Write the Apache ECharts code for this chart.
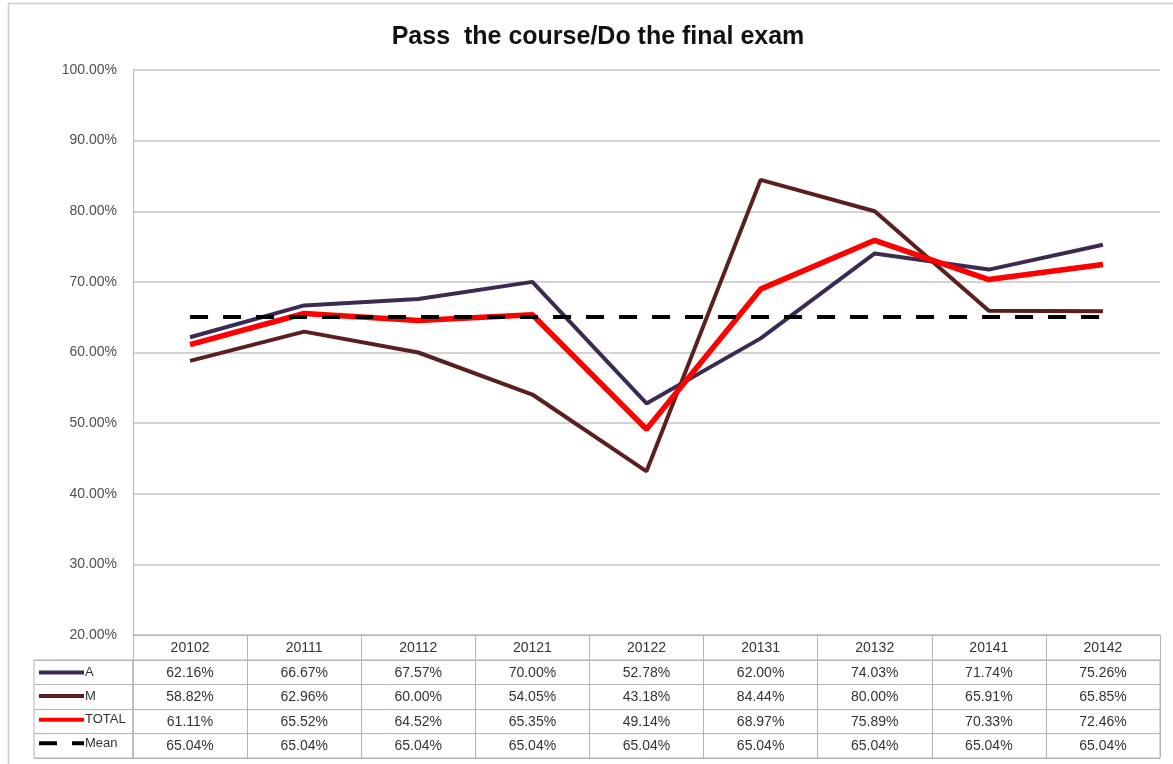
<!DOCTYPE html>
<html>
<head>
<meta charset="utf-8">
<script src="https://cdn.jsdelivr.net/npm/echarts@6/dist/echarts.min.js"></script>
<style>
html,body{margin:0;padding:0;background:#fff;}
#chart{width:1173px;height:764px;}
</style>
</head>
<body>
<div id="chart"></div>
<script>
const title = 'Pass  the course/Do the final exam';
const categories = ['20102','20111','20112','20121','20122','20131','20132','20141','20142'];
const seriesNames = ['A','M','TOTAL','Mean'];
const valuesA = [62.16,66.67,67.57,70.00,52.78,62.00,74.03,71.74,75.26];
const valuesM = [58.82,62.96,60.00,54.05,43.18,84.44,80.00,65.91,65.85];
const valuesTotal = [61.11,65.52,64.52,65.35,49.14,68.97,75.89,70.33,72.46];
const valuesMean = [65.04,65.04,65.04,65.04,65.04,65.04,65.04,65.04,65.04];
const yMin = 20, yMax = 100, yStep = 10;

const allValues = [valuesA, valuesM, valuesTotal, valuesMean];
const colors = ['#3b2a52','#5b1f1f','#ff0000','#000000'];
const widths = [4, 4, 5.5, 4];
const pct = v => Number(v).toFixed(2) + '%';

const tableData = [];
allValues.forEach((arr, r) => arr.forEach((v, c) => tableData.push([categories[c], seriesNames[r], v])));

const gridColor = '#c4c4c4';
const tableColor = '#b4b4b4';
const font = '"Liberation Sans", Arial, sans-serif';

const lineSeries = seriesNames.map((name, i) => ({
  name: name,
  type: 'line',
  xAxisIndex: 0, yAxisIndex: 0,
  data: allValues[i],
  symbol: 'none',
  smooth: false,
  z: 3 + i,
  lineStyle: {color: colors[i], width: widths[i], type: i === 3 ? [18, 15] : 'solid', cap: 'butt'},
  itemStyle: {color: colors[i]},
  emphasis: {disabled: true},
  animation: false
}));

const chart = echarts.init(document.getElementById('chart'), null, {renderer: 'canvas'});
chart.setOption({
  animation: false,
  backgroundColor: '#ffffff',
  title: {
    text: title, left: 593, top: 20, textAlign: 'center',
    textStyle: {fontFamily: font, fontWeight: 'bold', fontSize: 25, color: '#111'}
  },
  graphic: [{
    type: 'rect', silent: true, z: -1,
    shape: {x: 8.5, y: 3.5, width: 1200, height: 800},
    style: {fill: 'none', stroke: '#cccccc', lineWidth: 1.5}
  }],
  legend: {
    orient: 'vertical', left: 37, top: 666, padding: 0,
    itemWidth: 45, itemHeight: 14, itemGap: 10.6,
    data: seriesNames,
    selectedMode: false,
    itemStyle: {opacity: 0, borderWidth: 0},
    lineStyle: {width: 4},
    textStyle: {fontFamily: font, fontSize: 13, color: '#333', padding: [0,0,0,-4]}
  },
  grid: [
    {left: 133, right: 13, top: 70, height: 565, show: false},
    {left: 133, right: 13, top: 660, height: 98, show: true, borderColor: tableColor, borderWidth: 1, backgroundColor: 'transparent'},
    {left: 34, width: 99, top: 660, height: 98, show: true, borderColor: tableColor, borderWidth: 1, backgroundColor: 'transparent'}
  ],
  xAxis: [
    {gridIndex: 0, type: 'category', data: categories, boundaryGap: true,
     axisLine: {show: true, lineStyle: {color: tableColor, width: 1}},
     axisTick: {show: false}, axisLabel: {show: false}, splitLine: {show: false}},
    {gridIndex: 1, type: 'category', data: categories, boundaryGap: true, position: 'top',
     axisLine: {show: true, lineStyle: {color: tableColor, width: 1}},
     axisTick: {show: true, inside: false, length: 25, interval: 0, lineStyle: {color: tableColor, width: 1}},
     axisLabel: {show: true, interval: 0, margin: 5, fontFamily: font, fontSize: 14, color: '#333'},
     splitLine: {show: true, interval: 0, lineStyle: {color: tableColor, width: 1}}},
    {gridIndex: 2, type: 'category', data: ['x'], show: false}
  ],
  yAxis: [
    {gridIndex: 0, type: 'value', min: yMin, max: yMax, interval: yStep,
     axisLine: {show: true, lineStyle: {color: tableColor, width: 1}},
     axisTick: {show: false},
     axisLabel: {margin: 16, formatter: v => pct(v), fontFamily: font, fontSize: 14, color: '#4f4f4f'},
     splitLine: {show: true, lineStyle: {color: gridColor, width: 1.5}}},
    {gridIndex: 1, type: 'category', data: seriesNames, inverse: true,
     axisLine: {show: false}, axisTick: {show: false}, axisLabel: {show: false},
     splitLine: {show: true, interval: 0, lineStyle: {color: tableColor, width: 1}}},
    {gridIndex: 2, type: 'category', data: seriesNames, inverse: true,
     axisLine: {show: false}, axisTick: {show: false}, axisLabel: {show: false},
     splitLine: {show: true, interval: 0, lineStyle: {color: tableColor, width: 1}}}
  ],
  series: lineSeries.concat([{
    type: 'custom',
    xAxisIndex: 1, yAxisIndex: 1,
    data: tableData,
    silent: true,
    legendHoverLink: false,
    renderItem: function (params, api) {
      const p = api.coord([api.value(0), api.value(1)]);
      return {
        type: 'text', x: p[0], y: p[1] + 0.5,
        style: {text: pct(api.value(2)), align: 'center', verticalAlign: 'middle',
                font: '14px ' + font, fill: '#333'}
      };
    }
  }])
});
</script>
</body>
</html>
